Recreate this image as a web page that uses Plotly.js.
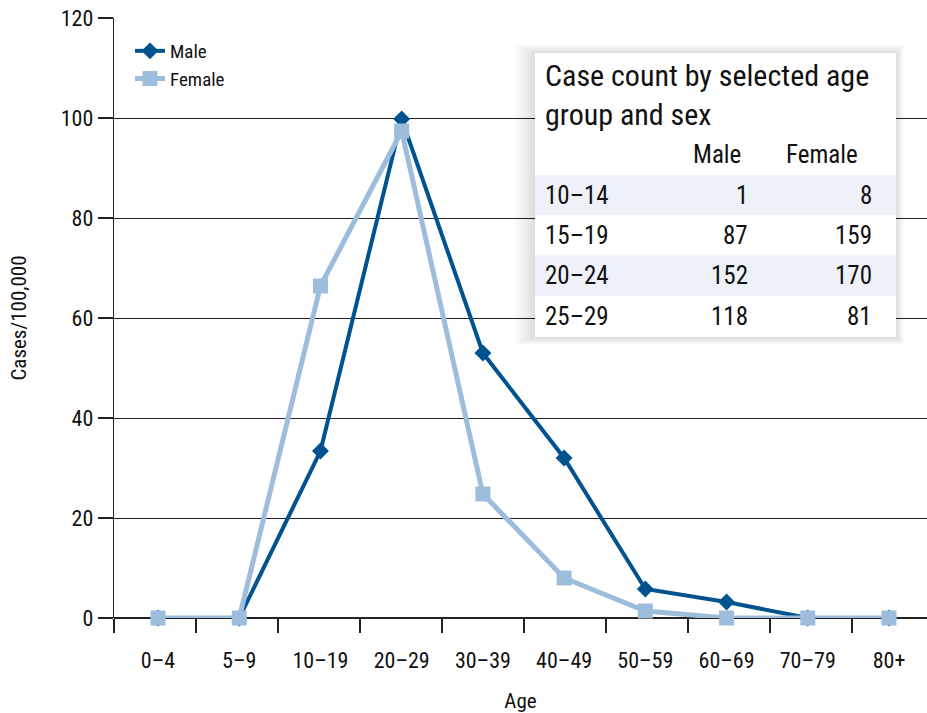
<!DOCTYPE html>
<html>
<head>
<meta charset="utf-8">
<script src="https://cdn.plot.ly/plotly-3.0.1.min.js"></script>
<style>html,body{margin:0;padding:0;background:#fff;}#chart{width:927px;height:713px;}</style>
</head>
<body>
<div id="chart"></div>
<script>
// ---- data ----
const ageGroups = ["0–4","5–9","10–19","20–29","30–39","40–49","50–59","60–69","70–79","80+"];
const maleRates = [0, 0, 33.4, 99.8, 53, 32, 5.8, 3.2, 0, 0];
const femaleRates = [0, 0, 66.4, 97.4, 24.8, 8, 1.4, 0, 0, 0];
const yTicks = [0, 20, 40, 60, 80, 100, 120];

const tableTitle = "Case count by selected age<br>group and sex";
const tableHeaders = ["Male", "Female"];
const tableAgeGroups = ["10–14", "15–19", "20–24", "25–29"];
const tableMale = [1, 87, 152, 118];
const tableFemale = [8, 159, 170, 81];

// ---- style ----
const FONT = '"Liberation Sans Narrow","Arial Narrow","Roboto Condensed",Roboto,"Liberation Sans",sans-serif';
const MALE_C = '#00538f';
const FEMALE_C = '#9cbddb';
const W = 927, H = 713;
const M = {l: 114, r: 0, t: 18, b: 95};
const pw = W - M.l - M.r, ph = H - M.t - M.b;
// pixel -> paper helpers for the inset table
const px = x => (x - M.l) / pw;
const py = y => 1 - (y - M.t) / ph;

const idx = ageGroups.map((_, i) => i);
const xRange = [-0.542, 9.468];
const step = 82 / (pw / (xRange[1] - xRange[0]));
const boundaryTicks = [];
for (let k = 0; k <= ageGroups.length; k++) boundaryTicks.push(xRange[0] + k * step);

const traces = [
  {x: idx, y: maleRates, name: 'Male', type: 'scatter', mode: 'lines+markers', cliponaxis: false,
   line: {color: MALE_C, width: 4}, marker: {symbol: 'diamond', size: 13, color: MALE_C}},
  {x: idx, y: femaleRates, name: 'Female', type: 'scatter', mode: 'lines+markers', cliponaxis: false,
   line: {color: FEMALE_C, width: 5}, marker: {symbol: 'square', size: 15, color: FEMALE_C}},
  {x: [xRange[0]], y: [0], xaxis: 'x2', mode: 'markers', marker: {opacity: 0}, showlegend: false, hoverinfo: 'skip'}
];

// table box: shadow + box + stripes
const bx0 = 535, bx1 = 896, by0 = 53, by1 = 337;
const shapes = [];
for (let s = 1; s <= 8; s++) {
  shapes.push({type: 'rect', xref: 'paper', yref: 'paper', layer: 'above',
    x0: px(bx0 - s * 2.5), x1: px(bx1 + s * 1.0), y0: py(by1 + s * 1.0), y1: py(by0 - s * 1.0),
    line: {width: 0}, fillcolor: 'rgba(0,0,0,0.016)'});
}
shapes.push({type: 'rect', xref: 'paper', yref: 'paper', layer: 'above',
  x0: px(bx0), x1: px(bx1), y0: py(by1), y1: py(by0), line: {width: 0}, fillcolor: '#ffffff'});
const rowTop = 175, rowH = 40.3;
tableAgeGroups.forEach((_, i) => {
  if (i % 2 === 0) shapes.push({type: 'rect', xref: 'paper', yref: 'paper', layer: 'above',
    x0: px(bx0), x1: px(bx1), y0: py(rowTop + (i + 1) * rowH), y1: py(rowTop + i * rowH),
    line: {width: 0}, fillcolor: '#eef2f8'});
});

const annotations = [];
const tf = {family: FONT, size: 25, color: '#111'};
annotations.push({xref: 'paper', yref: 'paper', x: px(543), y: py(95), xanchor: 'left', yanchor: 'middle',
  text: tableTitle, align: 'left', showarrow: false, font: {family: FONT, size: 30, color: '#111'}});
annotations.push({xref: 'paper', yref: 'paper', x: px(743), y: py(155), xanchor: 'right', yanchor: 'middle',
  text: tableHeaders[0], showarrow: false, font: tf});
annotations.push({xref: 'paper', yref: 'paper', x: px(860), y: py(155), xanchor: 'right', yanchor: 'middle',
  text: tableHeaders[1], showarrow: false, font: tf});
tableAgeGroups.forEach((g, i) => {
  const yc = py(rowTop + i * rowH + rowH / 2);
  annotations.push({xref: 'paper', yref: 'paper', x: px(543), y: yc, xanchor: 'left', yanchor: 'middle',
    text: g, showarrow: false, font: tf});
  annotations.push({xref: 'paper', yref: 'paper', x: px(750), y: yc, xanchor: 'right', yanchor: 'middle',
    text: String(tableMale[i]), showarrow: false, font: tf});
  annotations.push({xref: 'paper', yref: 'paper', x: px(874), y: yc, xanchor: 'right', yanchor: 'middle',
    text: String(tableFemale[i]), showarrow: false, font: tf});
});

const layout = {
  width: W, height: H,
  margin: M,
  paper_bgcolor: '#fff', plot_bgcolor: '#fff',
  font: {family: FONT, size: 20, color: '#111'},
  showlegend: true,
  legend: {x: px(130), y: py(32), xanchor: 'left', yanchor: 'top', bgcolor: 'rgba(0,0,0,0)',
    font: {family: FONT, size: 19, color: '#111'}, tracegroupgap: 0, itemwidth: 30},
  xaxis: {range: xRange, tickmode: 'array', tickvals: idx, ticktext: ageGroups,
    ticks: '', showgrid: false, zeroline: false, showline: false,
    ticklabelstandoff: 27, tickfont: {family: FONT, size: 22, color: '#111'},
    title: {text: 'Age', font: {family: FONT, size: 21, color: '#111'}, standoff: 30}, fixedrange: true},
  xaxis2: {range: xRange, overlaying: 'x', side: 'bottom', anchor: 'y', tickmode: 'array', tickvals: boundaryTicks,
    showticklabels: false, ticks: 'outside', ticklen: 14, tickwidth: 1.3, tickcolor: '#222',
    showgrid: false, zeroline: false, showline: false},
  yaxis: {range: [0, 120], tickmode: 'array', tickvals: yTicks, ticks: 'outside', ticklen: 15,
    tickwidth: 1.2, tickcolor: '#222', showgrid: true, gridcolor: '#222', gridwidth: 1,
    zeroline: true, zerolinecolor: '#222', zerolinewidth: 1.3, showline: true, linecolor: '#222', linewidth: 1.3,
    tickfont: {family: FONT, size: 22, color: '#111'},
    title: {text: 'Cases/100,000', font: {family: FONT, size: 21, color: '#111'}, standoff: 28}},
  shapes: shapes,
  annotations: annotations
};

Plotly.newPlot('chart', traces, layout, {displayModeBar: false, staticPlot: true});
</script>
</body>
</html>
